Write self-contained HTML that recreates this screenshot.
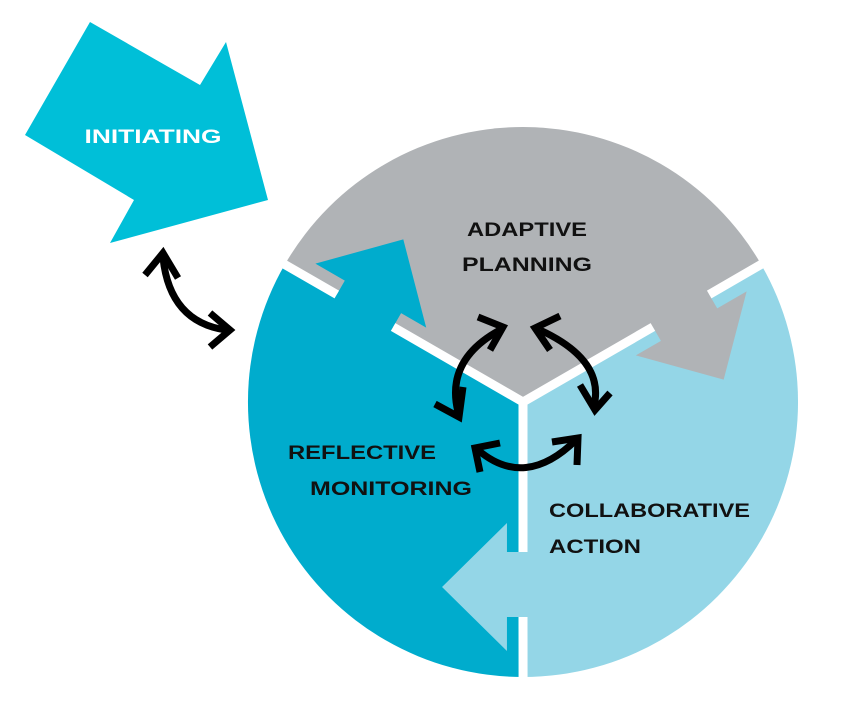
<!DOCTYPE html>
<html><head><meta charset="utf-8"><style>html,body{margin:0;padding:0;background:#fff}svg{display:block}</style></head>
<body>
<svg width="844" height="708" viewBox="0 0 844 708" xmlns="http://www.w3.org/2000/svg">
<polygon points="90,22 200,85 226,42 268,200 110,243 134,200 25,135" fill="#00bfd8"/>
<text x="153" y="143" text-anchor="middle" font-family="Liberation Sans, sans-serif" font-weight="bold" font-size="19" fill="#fff" textLength="137" lengthAdjust="spacingAndGlyphs">INITIATING</text>
<g transform="translate(523,402)">
  <path d="M0,0 L0,275 A275,275 0 0 1 -238.2,-137.5 Z" fill="#00accd"/>
  <path d="M0,0 L0,275 A275,275 0 0 1 -238.2,-137.5 Z" fill="#b0b3b6" transform="rotate(120)"/>
  <path d="M0,0 L0,275 A275,275 0 0 1 -238.2,-137.5 Z" fill="#94d6e7" transform="rotate(240)"/>
  <polygon points="-134.9,-66.3 -121.9,-88.9 -96.8,-74.4 -119.7,-162.6 -207.6,-138.4 -178.2,-121.4 -191.2,-98.8" fill="#00accd"/>
  <polygon points="-134.9,-66.3 -121.9,-88.9 -96.8,-74.4 -119.7,-162.6 -207.6,-138.4 -178.2,-121.4 -191.2,-98.8" fill="#b0b3b6" transform="rotate(120)"/>
  <polygon points="-134.9,-66.3 -121.9,-88.9 -96.8,-74.4 -119.7,-162.6 -207.6,-138.4 -178.2,-121.4 -191.2,-98.8" fill="#94d6e7" transform="rotate(240)"/>
  <g stroke="#fff" stroke-width="9" fill="none">
    <path d="M0,0 L-129.9,-75 M-186.2,-107.5 L-260,-150"/>
    <path d="M0,0 L-129.9,-75 M-186.2,-107.5 L-260,-150" transform="rotate(120)"/>
    <path d="M0,0 L-129.9,-75 M-186.2,-107.5 L-260,-150" transform="rotate(240)"/>
  </g>
</g>
<g stroke="#000" stroke-width="7" fill="none" stroke-linejoin="miter" stroke-linecap="butt">
  <path d="M163,258 Q170,322 226,330"/>
  <path d="M145,275 L163,253 L178,278"/>
  <path d="M210,313 L230,330 L210,347"/>
  <path d="M500,330 Q445,360 458,412"/>
  <path d="M478,317 L503,327 L490,350"/>
  <path d="M435,404 L459,417 L463,387"/>
  <path d="M540,330 Q605,360 594,406"/>
  <path d="M560,316 L535,328 L550,350"/>
  <path d="M580,385 L595,410 L610,393"/>
  <path d="M478,450 Q525,490 576,440"/>
  <path d="M480,472 L475,448 L500,443"/>
  <path d="M552,442 L578,438 L577,465"/>
</g>
<g font-family="Liberation Sans, sans-serif" font-weight="bold" font-size="19" fill="#111">
  <text x="467" y="236" textLength="120" lengthAdjust="spacingAndGlyphs">ADAPTIVE</text>
  <text x="462" y="271" textLength="130" lengthAdjust="spacingAndGlyphs">PLANNING</text>
  <text x="288" y="459" textLength="148" lengthAdjust="spacingAndGlyphs">REFLECTIVE</text>
  <text x="310" y="495" textLength="162" lengthAdjust="spacingAndGlyphs">MONITORING</text>
  <text x="549" y="517" textLength="201" lengthAdjust="spacingAndGlyphs">COLLABORATIVE</text>
  <text x="549" y="553" textLength="92" lengthAdjust="spacingAndGlyphs">ACTION</text>
</g>
</svg>
</body></html>
